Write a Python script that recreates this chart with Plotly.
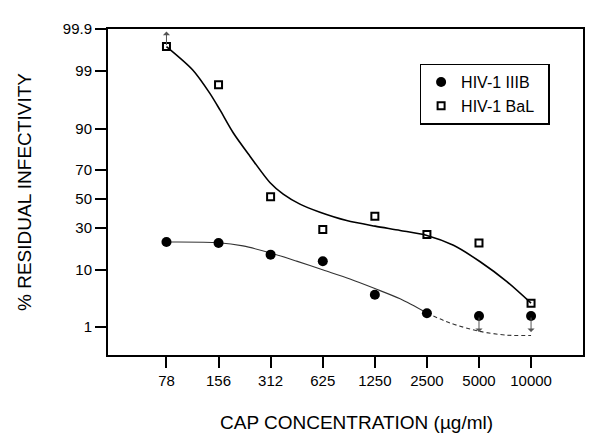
import math
import plotly.graph_objects as go
from statistics import NormalDist

# ---- data ----
concentrations = [78, 156, 312, 625, 1250, 2500, 5000, 10000]
tick_labels = ["78", "156", "312", "625", "1250", "2500", "5000", "10000"]

# % residual infectivity, measured points
iiib_pct = [21.7, 21.2, 15.6, 12.9, 4.1, 1.9, 1.67, 1.67]
bal_pct = [99.72, 98.1, 51.6, 29.0, 37.7, 26.0, 21.2, 2.9]

# fitted curves (concentration, %)
bal_curve_x = [78, 111, 139, 159, 190, 237, 309, 369, 461, 602, 859, 1253, 1749, 2500, 3560, 5080, 7248, 10000]
bal_curve_pct = [99.72, 99.04, 97.26, 94.73, 88.5, 78.2, 61.8, 53.5, 46.3, 40.5, 34.8, 31.1, 28.4, 25.4, 20.0, 12.7, 6.66, 2.92]

iiib_solid_x = [78, 156, 216, 312, 441, 629, 898, 1250, 1749, 2500]
iiib_solid_pct = [21.7, 21.35, 19.7, 16.35, 12.95, 9.83, 7.30, 5.18, 3.48, 1.91]
iiib_dash_x = [2500, 3405, 5000, 7248, 10000]
iiib_dash_pct = [1.91, 1.21, 0.813, 0.666, 0.657]

y_tick_pct = [1, 10, 30, 50, 70, 90, 99, 99.9]
y_tick_labels = ["1", "10", "30", "50", "70", "90", "99", "99.9"]

# ---- probit scale helper ----
_nd = NormalDist()


def probit(values):
    return [_nd.inv_cdf(v / 100.0) for v in values]


FONT = "Liberation Sans, Arial, sans-serif"

fig = go.Figure()

fig.add_trace(go.Scatter(
    x=bal_curve_x, y=probit(bal_curve_pct), mode="lines",
    line=dict(color="black", width=1.6, shape="spline", smoothing=0.8),
    showlegend=False, hoverinfo="skip"))
fig.add_trace(go.Scatter(
    x=iiib_solid_x, y=probit(iiib_solid_pct), mode="lines",
    line=dict(color="#333333", width=1.1, shape="spline", smoothing=0.8),
    showlegend=False, hoverinfo="skip"))
fig.add_trace(go.Scatter(
    x=iiib_dash_x, y=probit(iiib_dash_pct), mode="lines",
    line=dict(color="#333333", width=1.1, shape="spline", smoothing=0.8, dash="4px,3px"),
    showlegend=False, hoverinfo="skip"))

fig.add_trace(go.Scatter(
    x=concentrations, y=probit(iiib_pct), mode="markers", name="HIV-1 IIIB\u00a0\u00a0\u00a0",
    marker=dict(symbol="circle", size=10, color="black")))
fig.add_trace(go.Scatter(
    x=concentrations, y=probit(bal_pct), mode="markers", name="HIV-1 BaL",
    marker=dict(symbol="square-open", size=7, color="black", line=dict(width=2, color="black"))))

# arrows marking values beyond the assay limits
bal_p = probit(bal_pct)
iiib_p = probit(iiib_pct)
arrow_common = dict(text="", showarrow=True, arrowhead=1, arrowsize=1.2, arrowwidth=1,
                    arrowcolor="#555555", axref="pixel", ayref="pixel", ax=0,
                    xref="x", yref="y")
fig.add_annotation(x=math.log10(concentrations[0]), y=bal_p[0], ay=15, yshift=15, **arrow_common)
for i in (6, 7):
    fig.add_annotation(x=math.log10(concentrations[i]), y=iiib_p[i], ay=-16, yshift=-16, **arrow_common)

fig.add_annotation(text="CAP CONCENTRATION (µg/ml)", xref="paper", yref="paper",
                   x=0.524, y=-0.206, xanchor="center", yanchor="middle",
                   showarrow=False, font=dict(family=FONT, size=19, color="black"))

step = math.log10(2)
fig.update_layout(
    width=592, height=436,
    margin=dict(l=100, r=17, t=17, b=89),
    paper_bgcolor="white", plot_bgcolor="white",
    font=dict(family=FONT, color="black"),
    xaxis=dict(
        type="log", range=[math.log10(78) - 1.123 * step, math.log10(78) + 8 * step],
        tickvals=concentrations, ticktext=tick_labels,
        ticks="outside", ticklen=11, tickwidth=2, tickcolor="black",
        showline=True, linewidth=2, linecolor="black", mirror=True,
        showgrid=False, zeroline=False,
        tickfont=dict(family=FONT, size=15, color="black"),
    ),
    yaxis=dict(
        range=[-2.835, 3.09],
        tickvals=probit(y_tick_pct), ticktext=y_tick_labels,
        ticks="outside", ticklen=11, tickwidth=2, tickcolor="black",
        showline=True, linewidth=2, linecolor="black", mirror=True,
        showgrid=False, zeroline=False,
        tickfont=dict(family=FONT, size=15, color="black"),
        title=dict(text="% RESIDUAL INFECTIVITY", font=dict(family=FONT, size=19, color="black"),
                   standoff=26),
    ),
    legend=dict(
        x=0.656, y=0.894, xanchor="left", yanchor="top",
        bordercolor="black", borderwidth=1.5, bgcolor="white",
        font=dict(family=FONT, size=16, color="black"),
        tracegroupgap=0, itemwidth=30,
    ),
)

fig.write_html("out.html")
